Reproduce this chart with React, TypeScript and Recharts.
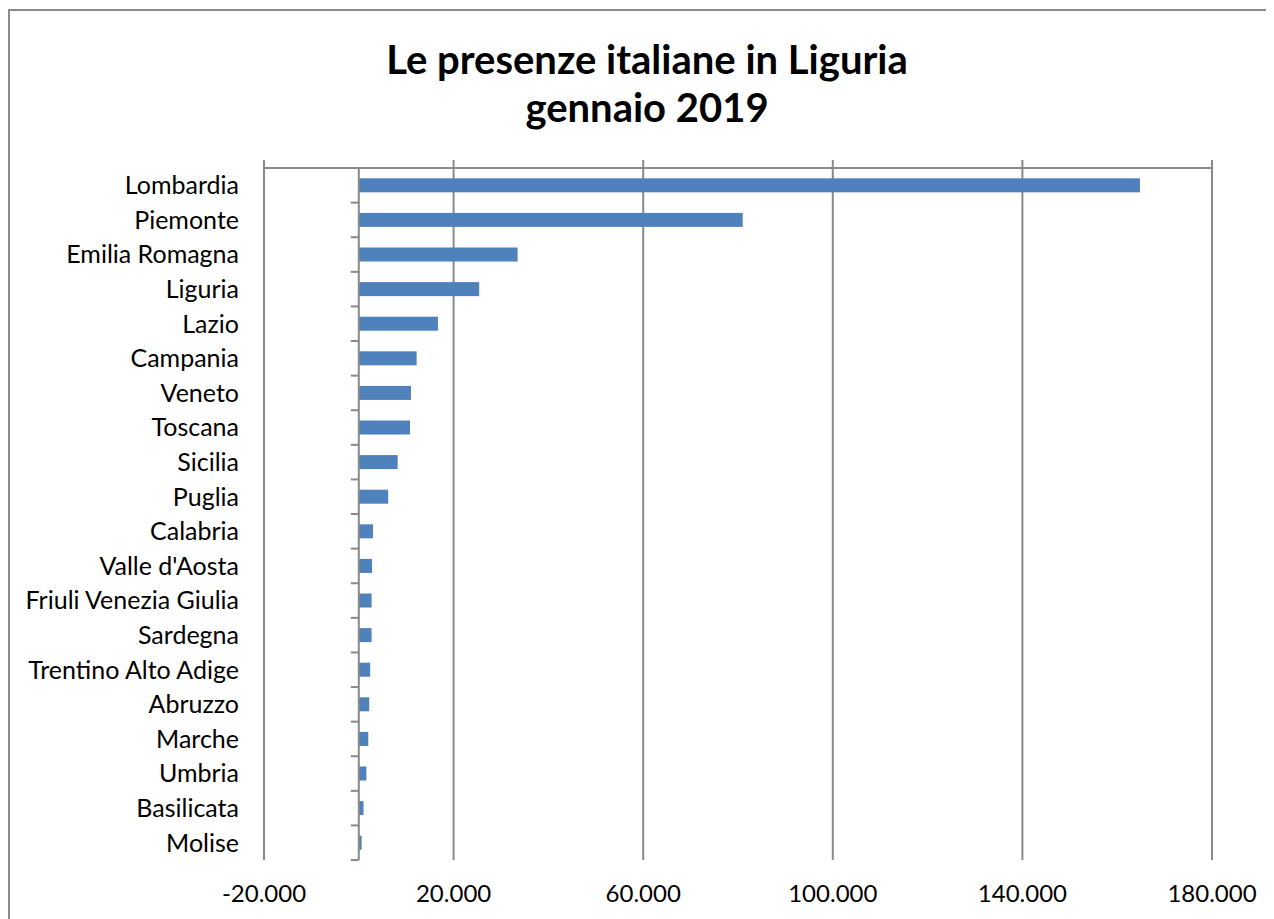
import { BarChart, Bar, XAxis, YAxis, CartesianGrid, ReferenceLine } from 'recharts';

const regions = [
  'Lombardia',
  'Piemonte',
  'Emilia Romagna',
  'Liguria',
  'Lazio',
  'Campania',
  'Veneto',
  'Toscana',
  'Sicilia',
  'Puglia',
  'Calabria',
  "Valle d'Aosta",
  'Friuli Venezia Giulia',
  'Sardegna',
  'Trentino Alto Adige',
  'Abruzzo',
  'Marche',
  'Umbria',
  'Basilicata',
  'Molise',
];

const presenze = [
  164800, 81000, 33500, 25400, 16700, 12200, 11000, 10800, 8200, 6200,
  3000, 2800, 2700, 2700, 2400, 2200, 2000, 1600, 1000, 600,
];

const xTicks = [-20000, 20000, 60000, 100000, 140000, 180000];

const data = regions.map((name, i) => ({ name, value: presenze[i] }));

const AXIS_GRAY = '#8a8a8a';
const FONT = 'Lato, "Open Sans", sans-serif';
const GAP = 0.298; // category gap on each side of a bar, as share of the band

function formatIt(v: number) {
  const sign = v < 0 ? '-' : '';
  const s = String(Math.abs(v));
  return sign + s.replace(/\B(?=(\d{3})+(?!\d))/g, '.');
}

// bar plus the small category tick on the zero axis (bottom edge of each band)
function BarWithTick(props: any) {
  const { x, y, width, height, fill } = props;
  const band = height / (1 - 2 * GAP);
  const edge = y + height / 2 + band / 2;
  return (
    <g>
      <rect x={x} y={y} width={width} height={height} fill={fill} />
      <line x1={x - 8} x2={x} y1={edge} y2={edge} stroke={AXIS_GRAY} strokeWidth={2} />
    </g>
  );
}

export default function App() {
  return (
    <div style={{ position: 'relative', width: 1266, height: 911, overflow: 'hidden', fontFamily: FONT }}>
      <div
        style={{
          position: 'absolute',
          left: 0,
          top: 1,
          width: 1276,
          height: 1000,
          border: `2px solid ${AXIS_GRAY}`,
          boxSizing: 'border-box',
        }}
      />
      <div
        style={{
          position: 'absolute',
          left: 0,
          top: 27,
          width: 1278,
          textAlign: 'center',
          fontWeight: 700,
          fontSize: 40,
          lineHeight: '48px',
          color: '#000',
        }}
      >
        Le presenze italiane in Liguria
        <br />
        gennaio 2019
      </div>
      <div style={{ position: 'absolute', left: 0, top: 0 }}>
        <BarChart
          width={1266}
          height={911}
          data={data}
          layout="vertical"
          margin={{ top: 130, right: 62, bottom: 19, left: 10 }}
          barCategoryGap={`${GAP * 100}%`}
        >
          <CartesianGrid horizontal={false} stroke={AXIS_GRAY} strokeWidth={2} />
          <XAxis
            type="number"
            domain={[-20000, 180000]}
            ticks={xTicks}
            allowDataOverflow
            orientation="bottom"
            height={40}
            axisLine={false}
            tickLine={false}
            tickSize={0}
            tickMargin={25}
            tickFormatter={formatIt}
            tick={{ fill: '#000', fontSize: 24, fontFamily: FONT }}
          />
          <XAxis
            xAxisId="top"
            type="number"
            domain={[-20000, 180000]}
            ticks={xTicks}
            allowDataOverflow
            orientation="top"
            height={30}
            axisLine={{ stroke: AXIS_GRAY, strokeWidth: 2 }}
            tickLine={{ stroke: AXIS_GRAY, strokeWidth: 2 }}
            tickSize={8}
            tickFormatter={() => ''}
          />
          <YAxis
            type="category"
            dataKey="name"
            width={246}
            axisLine={false}
            tickLine={false}
            tickSize={0}
            tickMargin={25}
            interval={0}
            tick={{ fill: '#000', fontSize: 25, fontFamily: FONT }}
          />
          <ReferenceLine x={0} stroke={AXIS_GRAY} strokeWidth={2} />
          <Bar dataKey="value" fill="#4f81bd" shape={BarWithTick} isAnimationActive={false} />
        </BarChart>
      </div>
    </div>
  );
}
